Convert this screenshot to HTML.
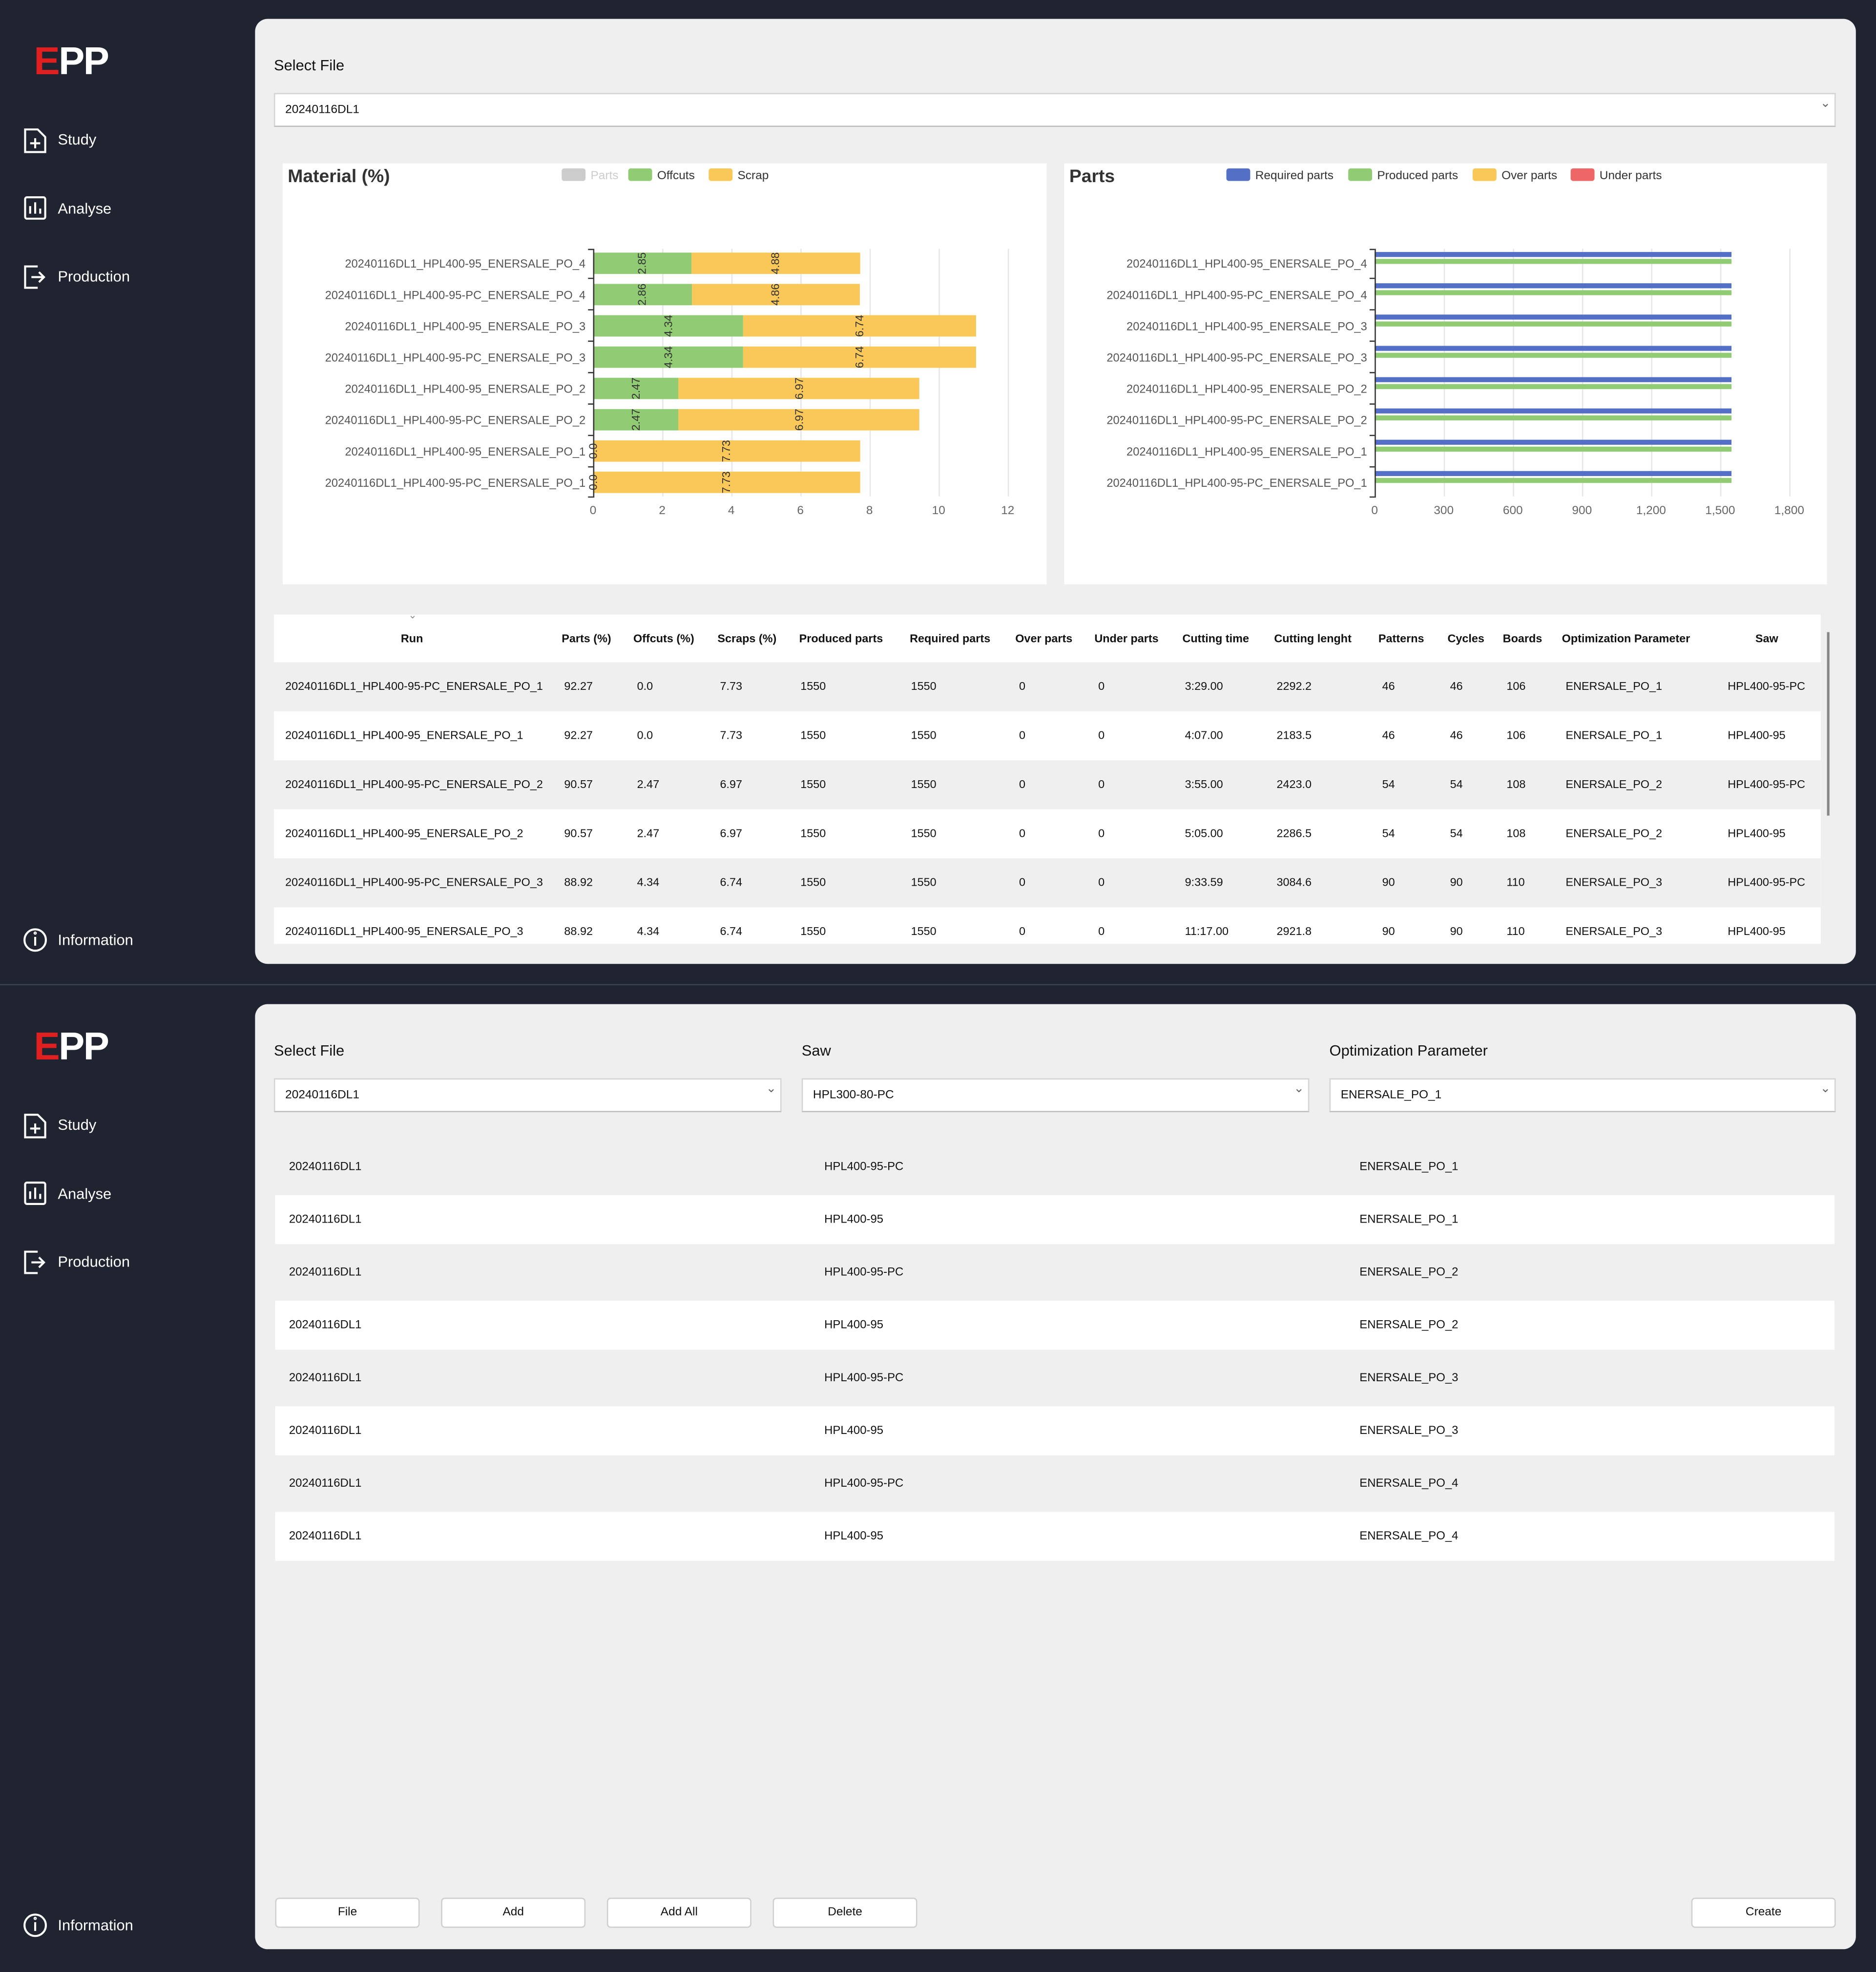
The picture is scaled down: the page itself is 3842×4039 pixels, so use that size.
<!DOCTYPE html>
<html><head><meta charset="utf-8">
<style>
html,body{margin:0;padding:0;width:3842px;height:4036px;overflow:hidden;background:#1f2430;}
#w{position:absolute;left:0;top:0;width:1493px;height:1569px;transform:scale(2.5733,2.5740);transform-origin:0 0;font-family:"Liberation Sans",sans-serif;color:#111;}
.a{position:absolute;}
.side{color:#fff;font-size:12px;}
.logo{font-family:"Liberation Sans",sans-serif;font-weight:bold;font-size:31px;color:#fff;letter-spacing:-1px;}
.logo span{color:#e02020;}
.panel{background:#efefef;border-radius:10px;}
.lbl{font-size:12px;color:#111;}
.dd{background:#fff;border:1px solid #d4d4d4;border-bottom:1px solid #bdbdbd;box-sizing:border-box;font-size:9.5px;padding:0 8px;line-height:25px;}
.dd:after{content:"\2304";position:absolute;right:3px;top:-5px;font-size:10px;color:#666;}
.card{background:#fff;}
.row{position:absolute;left:0;width:1231px;height:39px;font-size:9.1px;}
.row div{position:absolute;top:0;line-height:39px;white-space:nowrap;}
.th{position:absolute;top:0;line-height:39px;font-size:9.1px;font-weight:bold;white-space:nowrap;}
.lr{position:absolute;left:0;width:1241px;height:39px;font-size:9.3px;}
.lr div{position:absolute;top:0;line-height:39px;}
.btn{position:absolute;background:#fff;border:1px solid #cfcfcf;border-radius:3px;box-sizing:border-box;width:115px;height:24px;line-height:22px;text-align:center;font-size:9.5px;}
.sep{position:absolute;left:0;top:783px;width:1493px;height:1px;background:#3b414d;}
</style></head><body><div id="w">

<div class="sep"></div>

<div class="a logo" style="left:27px;top:31px;"><span>E</span>PP</div>
<svg class="a" style="left:0;top:0" width="203" height="783">
 <g fill="none" stroke="#fff" stroke-width="1.6">
  <path d="M20 103h10l6 6v12h-16z"/><path d="M28 110v8M24 114h8"/>
  <rect x="20" y="157" width="16" height="17" rx="1.5"/><path d="M24 170v-6M28 170v-9M32 170v-4"/>
  <path d="M30 212h-10v17h10"/><path d="M25 220.5h10M31 216.5l4 4-4 4"/>
  <circle cx="28" cy="748" r="8.5"/><path d="M28 745.5v7"/><circle cx="28" cy="742.5" r="0.5"/>
 </g>
</svg>
<div class="a side" style="left:46px;top:104px;">Study</div>
<div class="a side" style="left:46px;top:159px;">Analyse</div>
<div class="a side" style="left:46px;top:213px;">Production</div>
<div class="a side" style="left:46px;top:741px;">Information</div>

<div class="a panel" style="left:203px;top:15px;width:1274px;height:752px;"></div>
<div class="a lbl" style="left:218px;top:45px;">Select File</div>
<div class="a dd" style="left:218px;top:74px;width:1243px;height:27px;">20240116DL1</div>

<div class="a card" style="left:225px;top:130px;width:608px;height:335px;"></div>
<div class="a card" style="left:847px;top:130px;width:607px;height:335px;"></div>

<svg class="a" style="left:0;top:0" width="1493" height="783" font-family="Liberation Sans, sans-serif">
 <text x="229" y="145" font-size="14.5" font-weight="bold" fill="#333">Material (%)</text>
 <rect x="447" y="134" width="19" height="10" rx="2" fill="#ccc"/><text x="470" y="142.5" font-size="9.5" fill="#ccc">Parts</text>
 <rect x="500" y="134" width="19" height="10" rx="2" fill="#91cc75"/><text x="523" y="142.5" font-size="9.5" fill="#333">Offcuts</text>
 <rect x="564" y="134" width="19" height="10" rx="2" fill="#fac858"/><text x="587" y="142.5" font-size="9.5" fill="#333">Scrap</text>
 <g stroke="#e6e6e6" stroke-width="1">
  <path d="M527.5 198v197M582.5 198v197M637.5 198v197M692.5 198v197M747.5 198v197M802.5 198v197"/>
 </g>
 <g font-size="9.5" fill="#666" text-anchor="middle">
  <text x="472" y="409">0</text><text x="527" y="409">2</text><text x="582" y="409">4</text><text x="637" y="409">6</text><text x="692" y="409">8</text><text x="747" y="409">10</text><text x="802" y="409">12</text>
 </g>
 <g>
  <rect x="472" y="201" width="78.4" height="17" fill="#91cc75"/><rect x="550.4" y="201" width="134.2" height="17" fill="#fac858"/>
  <rect x="472" y="225.9" width="78.7" height="17" fill="#91cc75"/><rect x="550.7" y="225.9" width="133.6" height="17" fill="#fac858"/>
  <rect x="472" y="250.8" width="119.4" height="17" fill="#91cc75"/><rect x="591.4" y="250.8" width="185.4" height="17" fill="#fac858"/>
  <rect x="472" y="275.7" width="119.4" height="17" fill="#91cc75"/><rect x="591.4" y="275.7" width="185.4" height="17" fill="#fac858"/>
  <rect x="472" y="300.6" width="67.9" height="17" fill="#91cc75"/><rect x="539.9" y="300.6" width="191.7" height="17" fill="#fac858"/>
  <rect x="472" y="325.5" width="67.9" height="17" fill="#91cc75"/><rect x="539.9" y="325.5" width="191.7" height="17" fill="#fac858"/>
  <rect x="472" y="350.4" width="212.6" height="17" fill="#fac858"/>
  <rect x="472" y="375.3" width="212.6" height="17" fill="#fac858"/>
 </g>
 <g font-size="9" fill="#333" text-anchor="middle">
  <text transform="translate(514,209.5) rotate(-90)">2.85</text><text transform="translate(620,209.5) rotate(-90)">4.88</text>
  <text transform="translate(514,234.4) rotate(-90)">2.86</text><text transform="translate(620,234.4) rotate(-90)">4.86</text>
  <text transform="translate(535,259.3) rotate(-90)">4.34</text><text transform="translate(687,259.3) rotate(-90)">6.74</text>
  <text transform="translate(535,284.2) rotate(-90)">4.34</text><text transform="translate(687,284.2) rotate(-90)">6.74</text>
  <text transform="translate(509,309.1) rotate(-90)">2.47</text><text transform="translate(639,309.1) rotate(-90)">6.97</text>
  <text transform="translate(509,334) rotate(-90)">2.47</text><text transform="translate(639,334) rotate(-90)">6.97</text>
  <text transform="translate(475,358.9) rotate(-90)">0.0</text><text transform="translate(581,358.9) rotate(-90)">7.73</text>
  <text transform="translate(475,383.8) rotate(-90)">0.0</text><text transform="translate(581,383.8) rotate(-90)">7.73</text>
 </g>
 <path d="M472.5 198v198" stroke="#333" stroke-width="1"/>
 <g stroke="#333"><path d="M468 198.5h4M468 221.5h4M468 246.5h4M468 271.5h4M468 296.5h4M468 321.5h4M468 346.5h4M468 371.5h4M468 395.5h4"/></g>
 <g font-size="9.2" fill="#555" text-anchor="end">
  <text x="466" y="213">20240116DL1_HPL400-95_ENERSALE_PO_4</text>
  <text x="466" y="237.9">20240116DL1_HPL400-95-PC_ENERSALE_PO_4</text>
  <text x="466" y="262.8">20240116DL1_HPL400-95_ENERSALE_PO_3</text>
  <text x="466" y="287.7">20240116DL1_HPL400-95-PC_ENERSALE_PO_3</text>
  <text x="466" y="312.6">20240116DL1_HPL400-95_ENERSALE_PO_2</text>
  <text x="466" y="337.5">20240116DL1_HPL400-95-PC_ENERSALE_PO_2</text>
  <text x="466" y="362.4">20240116DL1_HPL400-95_ENERSALE_PO_1</text>
  <text x="466" y="387.3">20240116DL1_HPL400-95-PC_ENERSALE_PO_1</text>
 </g>

 <text x="851" y="145" font-size="14.5" font-weight="bold" fill="#333">Parts</text>
 <rect x="976" y="134" width="19" height="10" rx="2" fill="#5470c6"/><text x="999" y="142.5" font-size="9.5" fill="#333">Required parts</text>
 <rect x="1073" y="134" width="19" height="10" rx="2" fill="#91cc75"/><text x="1096" y="142.5" font-size="9.5" fill="#333">Produced parts</text>
 <rect x="1172" y="134" width="19" height="10" rx="2" fill="#fac858"/><text x="1195" y="142.5" font-size="9.5" fill="#333">Over parts</text>
 <rect x="1250" y="134" width="19" height="10" rx="2" fill="#ee6666"/><text x="1273" y="142.5" font-size="9.5" fill="#333">Under parts</text>
 <g stroke="#e6e6e6"><path d="M1149.5 198v197M1204.5 198v197M1259.5 198v197M1314.5 198v197M1369.5 198v197M1424.5 198v197"/></g>
 <g font-size="9.5" fill="#666" text-anchor="middle">
  <text x="1094" y="409">0</text><text x="1149" y="409">300</text><text x="1204" y="409">600</text><text x="1259" y="409">900</text><text x="1314" y="409">1,200</text><text x="1369" y="409">1,500</text><text x="1424" y="409">1,800</text>
 </g>
 <g>
  <rect x="1094" y="200.5" width="284" height="4" fill="#5470c6"/><rect x="1094" y="206" width="284" height="4" fill="#91cc75"/>
  <rect x="1094" y="225.4" width="284" height="4" fill="#5470c6"/><rect x="1094" y="230.9" width="284" height="4" fill="#91cc75"/>
  <rect x="1094" y="250.3" width="284" height="4" fill="#5470c6"/><rect x="1094" y="255.8" width="284" height="4" fill="#91cc75"/>
  <rect x="1094" y="275.2" width="284" height="4" fill="#5470c6"/><rect x="1094" y="280.7" width="284" height="4" fill="#91cc75"/>
  <rect x="1094" y="300.1" width="284" height="4" fill="#5470c6"/><rect x="1094" y="305.6" width="284" height="4" fill="#91cc75"/>
  <rect x="1094" y="325" width="284" height="4" fill="#5470c6"/><rect x="1094" y="330.5" width="284" height="4" fill="#91cc75"/>
  <rect x="1094" y="349.9" width="284" height="4" fill="#5470c6"/><rect x="1094" y="355.4" width="284" height="4" fill="#91cc75"/>
  <rect x="1094" y="374.8" width="284" height="4" fill="#5470c6"/><rect x="1094" y="380.3" width="284" height="4" fill="#91cc75"/>
 </g>
 <path d="M1094.5 198v198" stroke="#333"/>
 <g stroke="#333"><path d="M1090 198.5h4M1090 221.5h4M1090 246.5h4M1090 271.5h4M1090 296.5h4M1090 321.5h4M1090 346.5h4M1090 371.5h4M1090 395.5h4"/></g>
 <g font-size="9.2" fill="#555" text-anchor="end">
  <text x="1088" y="213">20240116DL1_HPL400-95_ENERSALE_PO_4</text>
  <text x="1088" y="237.9">20240116DL1_HPL400-95-PC_ENERSALE_PO_4</text>
  <text x="1088" y="262.8">20240116DL1_HPL400-95_ENERSALE_PO_3</text>
  <text x="1088" y="287.7">20240116DL1_HPL400-95-PC_ENERSALE_PO_3</text>
  <text x="1088" y="312.6">20240116DL1_HPL400-95_ENERSALE_PO_2</text>
  <text x="1088" y="337.5">20240116DL1_HPL400-95-PC_ENERSALE_PO_2</text>
  <text x="1088" y="362.4">20240116DL1_HPL400-95_ENERSALE_PO_1</text>
  <text x="1088" y="387.3">20240116DL1_HPL400-95-PC_ENERSALE_PO_1</text>
 </g>
</svg>

<div class="a" style="left:218px;top:489px;width:1231px;height:262px;overflow:hidden;background:#fff;">
 <div style="position:absolute;left:107px;top:-4px;font-size:8px;color:#888;">&#8964;</div>
 <div class="th" style="left:101px">Run</div>
 <div class="th" style="left:229px">Parts (%)</div>
 <div class="th" style="left:286px">Offcuts (%)</div>
 <div class="th" style="left:353px">Scraps (%)</div>
 <div class="th" style="left:418px">Produced parts</div>
 <div class="th" style="left:506px">Required parts</div>
 <div class="th" style="left:590px">Over parts</div>
 <div class="th" style="left:653px">Under parts</div>
 <div class="th" style="left:723px">Cutting time</div>
 <div class="th" style="left:796px">Cutting lenght</div>
 <div class="th" style="left:879px">Patterns</div>
 <div class="th" style="left:934px">Cycles</div>
 <div class="th" style="left:978px">Boards</div>
 <div class="th" style="left:1025px">Optimization Parameter</div>
 <div class="th" style="left:1179px">Saw</div>

 <div class="row" style="top:38px;background:#efefef"><div style="left:9px">20240116DL1_HPL400-95-PC_ENERSALE_PO_1</div><div style="left:231px">92.27</div><div style="left:289px">0.0</div><div style="left:355px">7.73</div><div style="left:419px">1550</div><div style="left:507px">1550</div><div style="left:593px">0</div><div style="left:656px">0</div><div style="left:725px">3:29.00</div><div style="left:798px">2292.2</div><div style="left:882px">46</div><div style="left:936px">46</div><div style="left:981px">106</div><div style="left:1028px">ENERSALE_PO_1</div><div style="left:1157px">HPL400-95-PC</div></div>
 <div class="row" style="top:77px;background:#fff"><div style="left:9px">20240116DL1_HPL400-95_ENERSALE_PO_1</div><div style="left:231px">92.27</div><div style="left:289px">0.0</div><div style="left:355px">7.73</div><div style="left:419px">1550</div><div style="left:507px">1550</div><div style="left:593px">0</div><div style="left:656px">0</div><div style="left:725px">4:07.00</div><div style="left:798px">2183.5</div><div style="left:882px">46</div><div style="left:936px">46</div><div style="left:981px">106</div><div style="left:1028px">ENERSALE_PO_1</div><div style="left:1157px">HPL400-95</div></div>
 <div class="row" style="top:116px;background:#efefef"><div style="left:9px">20240116DL1_HPL400-95-PC_ENERSALE_PO_2</div><div style="left:231px">90.57</div><div style="left:289px">2.47</div><div style="left:355px">6.97</div><div style="left:419px">1550</div><div style="left:507px">1550</div><div style="left:593px">0</div><div style="left:656px">0</div><div style="left:725px">3:55.00</div><div style="left:798px">2423.0</div><div style="left:882px">54</div><div style="left:936px">54</div><div style="left:981px">108</div><div style="left:1028px">ENERSALE_PO_2</div><div style="left:1157px">HPL400-95-PC</div></div>
 <div class="row" style="top:155px;background:#fff"><div style="left:9px">20240116DL1_HPL400-95_ENERSALE_PO_2</div><div style="left:231px">90.57</div><div style="left:289px">2.47</div><div style="left:355px">6.97</div><div style="left:419px">1550</div><div style="left:507px">1550</div><div style="left:593px">0</div><div style="left:656px">0</div><div style="left:725px">5:05.00</div><div style="left:798px">2286.5</div><div style="left:882px">54</div><div style="left:936px">54</div><div style="left:981px">108</div><div style="left:1028px">ENERSALE_PO_2</div><div style="left:1157px">HPL400-95</div></div>
 <div class="row" style="top:194px;background:#efefef"><div style="left:9px">20240116DL1_HPL400-95-PC_ENERSALE_PO_3</div><div style="left:231px">88.92</div><div style="left:289px">4.34</div><div style="left:355px">6.74</div><div style="left:419px">1550</div><div style="left:507px">1550</div><div style="left:593px">0</div><div style="left:656px">0</div><div style="left:725px">9:33.59</div><div style="left:798px">3084.6</div><div style="left:882px">90</div><div style="left:936px">90</div><div style="left:981px">110</div><div style="left:1028px">ENERSALE_PO_3</div><div style="left:1157px">HPL400-95-PC</div></div>
 <div class="row" style="top:233px;background:#fff"><div style="left:9px">20240116DL1_HPL400-95_ENERSALE_PO_3</div><div style="left:231px">88.92</div><div style="left:289px">4.34</div><div style="left:355px">6.74</div><div style="left:419px">1550</div><div style="left:507px">1550</div><div style="left:593px">0</div><div style="left:656px">0</div><div style="left:725px">11:17.00</div><div style="left:798px">2921.8</div><div style="left:882px">90</div><div style="left:936px">90</div><div style="left:981px">110</div><div style="left:1028px">ENERSALE_PO_3</div><div style="left:1157px">HPL400-95</div></div>
</div>
<div class="a" style="left:1454px;top:503px;width:2px;height:146px;background:#888;"></div>

<div class="a logo" style="left:27px;top:815px;"><span>E</span>PP</div>
<svg class="a" style="left:0;top:784px" width="203" height="784">
 <g fill="none" stroke="#fff" stroke-width="1.6">
  <path d="M20 103h10l6 6v12h-16z"/><path d="M28 110v8M24 114h8"/>
  <rect x="20" y="157" width="16" height="17" rx="1.5"/><path d="M24 170v-6M28 170v-9M32 170v-4"/>
  <path d="M30 212h-10v17h10"/><path d="M25 220.5h10M31 216.5l4 4-4 4"/>
  <circle cx="28" cy="748" r="8.5"/><path d="M28 745.5v7"/><circle cx="28" cy="742.5" r="0.5"/>
 </g>
</svg>
<div class="a side" style="left:46px;top:888px;">Study</div>
<div class="a side" style="left:46px;top:943px;">Analyse</div>
<div class="a side" style="left:46px;top:997px;">Production</div>
<div class="a side" style="left:46px;top:1525px;">Information</div>

<div class="a panel" style="left:203px;top:799px;width:1274px;height:752px;"></div>
<div class="a lbl" style="left:218px;top:829px;">Select File</div>
<div class="a lbl" style="left:638px;top:829px;">Saw</div>
<div class="a lbl" style="left:1058px;top:829px;">Optimization Parameter</div>
<div class="a dd" style="left:218px;top:858px;width:404px;height:27px;">20240116DL1</div>
<div class="a dd" style="left:638px;top:858px;width:404px;height:27px;">HPL300-80-PC</div>
<div class="a dd" style="left:1058px;top:858px;width:403px;height:27px;">ENERSALE_PO_1</div>

<div class="a" style="left:219px;top:907px;width:1241px;height:336px;">
 <div class="lr" style="top:0;height:42px"><div style="left:11px;line-height:42px">20240116DL1</div><div style="left:437px;line-height:42px">HPL400-95-PC</div><div style="left:863px;line-height:42px">ENERSALE_PO_1</div></div>
 <div class="lr" style="top:44px;height:39px;background:#fff"><div style="left:11px">20240116DL1</div><div style="left:437px">HPL400-95</div><div style="left:863px">ENERSALE_PO_1</div></div>
 <div class="lr" style="top:84px;height:42px"><div style="left:11px;line-height:42px">20240116DL1</div><div style="left:437px;line-height:42px">HPL400-95-PC</div><div style="left:863px;line-height:42px">ENERSALE_PO_2</div></div>
 <div class="lr" style="top:128px;height:39px;background:#fff"><div style="left:11px">20240116DL1</div><div style="left:437px">HPL400-95</div><div style="left:863px">ENERSALE_PO_2</div></div>
 <div class="lr" style="top:168px;height:42px"><div style="left:11px;line-height:42px">20240116DL1</div><div style="left:437px;line-height:42px">HPL400-95-PC</div><div style="left:863px;line-height:42px">ENERSALE_PO_3</div></div>
 <div class="lr" style="top:212px;height:39px;background:#fff"><div style="left:11px">20240116DL1</div><div style="left:437px">HPL400-95</div><div style="left:863px">ENERSALE_PO_3</div></div>
 <div class="lr" style="top:252px;height:42px"><div style="left:11px;line-height:42px">20240116DL1</div><div style="left:437px;line-height:42px">HPL400-95-PC</div><div style="left:863px;line-height:42px">ENERSALE_PO_4</div></div>
 <div class="lr" style="top:296px;height:39px;background:#fff"><div style="left:11px">20240116DL1</div><div style="left:437px">HPL400-95</div><div style="left:863px">ENERSALE_PO_4</div></div>
</div>

<div class="btn" style="left:219px;top:1510px;">File</div>
<div class="btn" style="left:351px;top:1510px;">Add</div>
<div class="btn" style="left:483px;top:1510px;">Add All</div>
<div class="btn" style="left:615px;top:1510px;">Delete</div>
<div class="btn" style="left:1346px;top:1510px;">Create</div>

</div></body></html>
